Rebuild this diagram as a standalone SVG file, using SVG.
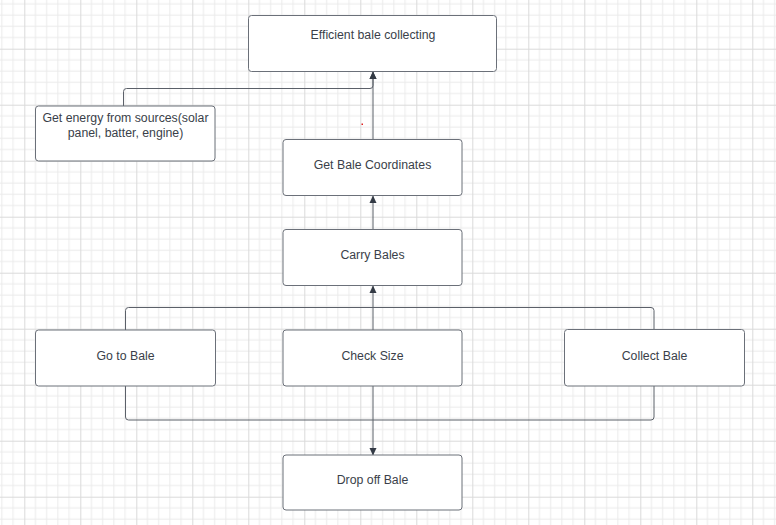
<svg xmlns="http://www.w3.org/2000/svg" width="776" height="525" viewBox="0 0 776 525">
  <style>
    .node rect { fill: #ffffff; stroke: #6b7079; stroke-width: 1; }
    .node text { font-family: "Liberation Sans", Arial, sans-serif; font-size: 12.3px; fill: #3a3f4a; text-anchor: middle; }
    .conn { fill: none; stroke: #5b6069; stroke-width: 1; }
  </style>
  <defs>
    <pattern id="grid" patternUnits="userSpaceOnUse" x="24.3" y="48.7" width="56" height="56">
      <rect width="56" height="56" fill="#ffffff"/>
      <path d="M11.2 0V56M22.4 0V56M33.6 0V56M44.8 0V56M0 11.2H56M0 22.4H56M0 33.6H56M0 44.8H56" stroke="#ebebeb" stroke-width="1"/>
      <path d="M0.5 0V56M0 0.5H56" stroke="#dadada" stroke-width="1"/>
    </pattern>
    <marker id="arrow" markerWidth="8" markerHeight="8" refX="7" refY="4" orient="auto" markerUnits="userSpaceOnUse">
      <path d="M0,0.5 L7.5,4 L0,7.5 Z" fill="#333a45"/>
    </marker>
  </defs>
  <rect width="776" height="525" fill="url(#grid)"/>

  <g id="connectors">
    <path class="conn" d="M123.5 106V91.5Q123.5 88.5 126.5 88.5H370Q373 88.5 373 85.5V72" marker-end="url(#arrow)"/>
    <path class="conn" d="M373 139.5V72" marker-end="url(#arrow)"/>
    <path class="conn" d="M373 229.5V196" marker-end="url(#arrow)"/>
    <path class="conn" d="M125.5 330V310.5Q125.5 307.5 128.5 307.5H651Q654 307.5 654 310.5V329.5"/>
    <path class="conn" d="M373 330V286" marker-end="url(#arrow)"/>
    <path class="conn" d="M125.5 386V417Q125.5 420 128.5 420H651Q654 420 654 417V386"/>
    <path class="conn" d="M373 386V455" marker-end="url(#arrow)"/>
  </g>

  <g id="node-efficient" class="node">
    <rect x="248.5" y="15.5" width="248" height="56" rx="3"/>
    <text x="373" y="39">Efficient bale collecting</text>
  </g>
  <g id="node-energy" class="node">
    <rect x="35.5" y="106" width="179.5" height="55" rx="3"/>
    <text x="125.5" y="121.5">Get energy from sources(solar</text>
    <text x="125.5" y="136.5">panel, batter, engine)</text>
  </g>
  <g id="node-coordinates" class="node">
    <rect x="283" y="139.5" width="179" height="56" rx="3"/>
    <text x="372.5" y="169">Get Bale Coordinates</text>
  </g>
  <g id="node-carry" class="node">
    <rect x="283" y="229.5" width="179" height="56" rx="3"/>
    <text x="372.5" y="259">Carry Bales</text>
  </g>
  <g id="node-goto" class="node">
    <rect x="35.5" y="330" width="180" height="56" rx="3"/>
    <text x="125.5" y="359.5">Go to Bale</text>
  </g>
  <g id="node-check" class="node">
    <rect x="283" y="330" width="179" height="56" rx="3"/>
    <text x="372.5" y="359.5">Check Size</text>
  </g>
  <g id="node-collect" class="node">
    <rect x="564.5" y="329.5" width="180" height="56.5" rx="3"/>
    <text x="654.5" y="359.5">Collect Bale</text>
  </g>
  <g id="node-drop" class="node">
    <rect x="283" y="455" width="179" height="55" rx="3"/>
    <text x="372.5" y="484">Drop off Bale</text>
  </g>
  <rect x="361.5" y="123.5" width="1.5" height="1.5" fill="#e02020"/>
</svg>
